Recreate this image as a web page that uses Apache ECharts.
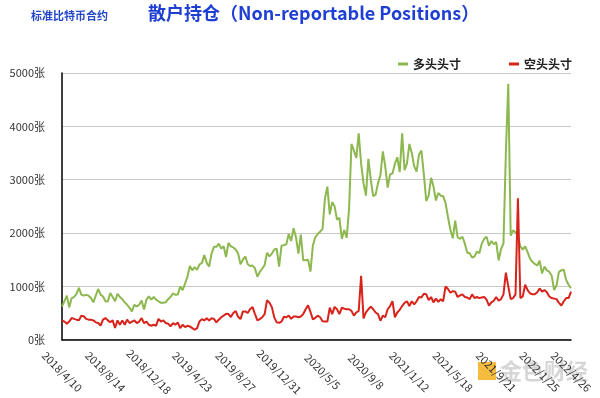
<!DOCTYPE html>
<html>
<head>
<meta charset="utf-8">
<script src="https://cdn.jsdelivr.net/npm/echarts@6/dist/echarts.min.js"></script>
<style>
  html, body { margin: 0; padding: 0; background: #fff; }
  #chart { width: 600px; height: 398px; }
</style>
</head>
<body>
<div id="chart"></div>
<script>
// weekly report dates (Tuesdays)
var dates = [
  '2018/4/10','2018/4/17','2018/4/24','2018/5/1','2018/5/8','2018/5/15','2018/5/22','2018/5/29',
  '2018/6/5','2018/6/12','2018/6/19','2018/6/26','2018/7/3','2018/7/10','2018/7/17','2018/7/24','2018/7/31',
  '2018/8/7','2018/8/14','2018/8/21','2018/8/28','2018/9/4','2018/9/11','2018/9/18','2018/9/25',
  '2018/10/2','2018/10/9','2018/10/16','2018/10/23','2018/10/30','2018/11/6','2018/11/13','2018/11/20','2018/11/27',
  '2018/12/4','2018/12/11','2018/12/18','2018/12/25',
  '2019/1/1','2019/1/8','2019/1/15','2019/1/22','2019/1/29','2019/2/5','2019/2/12','2019/2/19','2019/2/26',
  '2019/3/5','2019/3/12','2019/3/19','2019/3/26','2019/4/2','2019/4/9','2019/4/16','2019/4/23','2019/4/30',
  '2019/5/7','2019/5/14','2019/5/21','2019/5/28','2019/6/4','2019/6/11','2019/6/18','2019/6/25',
  '2019/7/2','2019/7/9','2019/7/16','2019/7/23','2019/7/30','2019/8/6','2019/8/13','2019/8/20','2019/8/27',
  '2019/9/3','2019/9/10','2019/9/17','2019/9/24','2019/10/1','2019/10/8','2019/10/15','2019/10/22','2019/10/29',
  '2019/11/5','2019/11/12','2019/11/19','2019/11/26','2019/12/3','2019/12/10','2019/12/17','2019/12/24','2019/12/31',
  '2020/1/7','2020/1/14','2020/1/21','2020/1/28','2020/2/4','2020/2/11','2020/2/18','2020/2/25',
  '2020/3/3','2020/3/10','2020/3/17','2020/3/24','2020/3/31','2020/4/7','2020/4/14','2020/4/21','2020/4/28',
  '2020/5/5','2020/5/12','2020/5/19','2020/5/26','2020/6/2','2020/6/9','2020/6/16','2020/6/23','2020/6/30',
  '2020/7/7','2020/7/14','2020/7/21','2020/7/28','2020/8/4','2020/8/11','2020/8/18','2020/8/25',
  '2020/9/1','2020/9/8','2020/9/15','2020/9/22','2020/9/29','2020/10/6','2020/10/13','2020/10/20','2020/10/27',
  '2020/11/3','2020/11/10','2020/11/17','2020/11/24','2020/12/1','2020/12/8','2020/12/15','2020/12/22','2020/12/29',
  '2021/1/5','2021/1/12','2021/1/19','2021/1/26','2021/2/2','2021/2/9','2021/2/16','2021/2/23',
  '2021/3/2','2021/3/9','2021/3/16','2021/3/23','2021/3/30','2021/4/6','2021/4/13','2021/4/20','2021/4/27',
  '2021/5/4','2021/5/11','2021/5/18','2021/5/25','2021/6/1','2021/6/8','2021/6/15','2021/6/22','2021/6/29',
  '2021/7/6','2021/7/13','2021/7/20','2021/7/27','2021/8/3','2021/8/10','2021/8/17','2021/8/24','2021/8/31',
  '2021/9/7','2021/9/14','2021/9/21','2021/9/28','2021/10/5','2021/10/12','2021/10/19','2021/10/26',
  '2021/11/2','2021/11/9','2021/11/16','2021/11/23','2021/11/30','2021/12/7','2021/12/14','2021/12/21','2021/12/28',
  '2022/1/4','2022/1/11','2022/1/18','2022/1/25','2022/2/1','2022/2/8','2022/2/15','2022/2/22',
  '2022/3/1','2022/3/8','2022/3/15','2022/3/22','2022/3/29','2022/4/5','2022/4/12','2022/4/19','2022/4/26'
];

// 多头头寸
var longPos = [
  625, 720, 825, 605, 780, 800, 860, 970, 845, 825, 840, 825, 780, 700, 825, 950, 845, 810, 720, 715,
  875, 800, 720, 860, 800, 760, 700, 655, 595, 530, 655, 625, 655, 735, 565, 750, 810, 750, 800, 750,
  720, 690, 690, 700, 760, 800, 870, 840, 845, 995, 930, 1050, 1180, 1380, 1300, 1360, 1310, 1410, 1440, 1585,
  1440, 1370, 1615, 1740, 1740, 1800, 1710, 1750, 1550, 1815, 1750, 1730, 1690, 1615, 1415, 1500, 1560, 1415, 1380, 1390,
  1335, 1180, 1270, 1330, 1400, 1630, 1560, 1615, 1690, 1705, 1370, 1765, 1770, 1790, 1980, 1850, 2090, 1920, 1615, 1970,
  1490, 1490, 1500, 1275, 1765, 1920, 1980, 2025, 2075, 2650, 2870, 2350, 2580, 2500, 2250, 2285, 1890, 2055, 1910, 2450,
  3670, 3550, 3405, 3870, 3300, 2930, 2700, 3390, 3000, 2690, 2720, 2935, 3085, 3530, 3250, 2850, 3100, 3115, 3300, 3420,
  3140, 3870, 3180, 3300, 3670, 3500, 3250, 3150, 3470, 3545, 3100, 2600, 2700, 3035, 2870, 2610, 2750, 2700, 2690, 2560,
  2300, 2060, 1900, 2230, 1920, 1890, 1930, 1800, 1630, 1620, 1540, 1560, 1650, 1620, 1800, 1890, 1930, 1760, 1850, 1790,
  1830, 1485, 1700, 1800, 3500, 4800, 1950, 2050, 2010, 1960, 1750, 1690, 1750, 1640, 1520, 1460, 1420, 1390, 1480, 1240,
  1370, 1300, 1270, 1200, 930, 1020, 1270, 1300, 1310, 1120, 1030, 965
];

// 空头头寸
var shortPos = [
  362, 340, 300, 340, 405, 390, 375, 362, 450, 440, 390, 375, 375, 362, 325, 312, 262, 375, 405, 362,
  325, 362, 220, 362, 280, 362, 280, 375, 312, 340, 362, 312, 340, 405, 312, 340, 280, 262, 280, 262,
  390, 340, 362, 312, 300, 250, 310, 280, 323, 217, 280, 236, 260, 248, 217, 186, 217, 342, 385, 360,
  400, 360, 400, 390, 323, 375, 420, 450, 485, 480, 425, 500, 535, 430, 385, 530, 530, 500, 575, 610,
  480, 360, 385, 420, 480, 740, 695, 610, 417, 325, 315, 340, 430, 420, 450, 390, 435, 435, 420, 435,
  480, 570, 645, 520, 380, 410, 450, 420, 345, 340, 340, 600, 480, 615, 570, 480, 600, 580, 570, 570,
  540, 450, 510, 540, 1196, 400, 510, 570, 620, 570, 510, 480, 355, 450, 420, 570, 630, 720, 420, 510,
  560, 630, 690, 720, 630, 720, 660, 720, 800, 790, 860, 850, 740, 800, 700, 770, 710, 760, 720, 1000,
  950, 880, 910, 900, 800, 830, 850, 800, 790, 760, 850, 780, 800, 780, 790, 800, 750, 640, 700, 730,
  800, 730, 760, 850, 1258, 1000, 760, 780, 850, 2650, 780, 810, 1030, 930, 870, 850, 850, 890, 960, 900,
  930, 890, 810, 780, 770, 760, 690, 640, 720, 780, 780, 900
];

var yTicks = [0, 1000, 2000, 3000, 4000, 5000];
var LABEL_STEP = 18;

var FONT = '"Noto Sans CJK SC", "Noto Sans", sans-serif';
var chart = echarts.init(document.getElementById('chart'));

var option = {
  animation: false,
  textStyle: { fontFamily: FONT },
  title: [
    {
      text: '散户持仓（Non-reportable Positions）',
      left: 148,
      top: 4,
      padding: 0,
      textStyle: { fontFamily: FONT, fontSize: 18, fontWeight: 'bold', color: '#1f3fd2' }
    },
    {
      text: '标准比特币合约',
      left: 31,
      top: 10,
      padding: 0,
      textStyle: { fontFamily: FONT, fontSize: 11, fontWeight: 'bold', color: '#2447c8' }
    }
  ],
  legend: {
    left: 393,
    top: 53,
    icon: 'rect',
    itemWidth: 10,
    itemHeight: 3,
    itemGap: 48,
    textStyle: { fontFamily: FONT, fontSize: 12, fontWeight: 'bold', color: '#222' },
    data: ['多头头寸', '空头头寸']
  },
  grid: {
    left: 62,
    right: 29,
    top: 73,
    bottom: 54
  },
  xAxis: {
    type: 'category',
    boundaryGap: false,
    data: dates,
    axisLine: { lineStyle: { color: '#000', width: 1.5 } },
    axisTick: { show: false },
    axisLabel: {
      interval: function(index){
        return index % LABEL_STEP === 0 || index === dates.length - 1;
      },
      rotate: -45,
      align: 'center',
      verticalAlign: 'middle',
      margin: 32,
      fontSize: 11,
      color: '#333',
      fontFamily: FONT
    }
  },
  yAxis: {
    type: 'value',
    min: yTicks[0],
    max: yTicks[yTicks.length - 1],
    interval: 1000,
    axisLine: { show: true, lineStyle: { color: '#000', width: 1.5 } },
    axisTick: { show: false },
    splitLine: { lineStyle: { color: '#c8c8c8', width: 1 } },
    axisLabel: {
      formatter: function(v){
        return v + '张';
      },
      margin: 17,
      fontSize: 11,
      color: '#333',
      fontFamily: FONT
    }
  },
  series: [
    {
      name: '多头头寸',
      type: 'line',
      data: longPos,
      showSymbol: false,
      color: '#8cb84f',
      lineStyle: { width: 2, color: '#8cb84f' }
    },
    {
      name: '空头头寸',
      type: 'line',
      data: shortPos,
      showSymbol: false,
      color: '#d8231b',
      lineStyle: { width: 2, color: '#d8231b' }
    }
  ],
  graphic: [
    {
      type: 'rect',
      left: 478,
      top: 362,
      shape: { width: 18, height: 18 },
      style: { fill: 'rgba(245,176,30,0.85)' }
    },
    {
      type: 'text',
      left: 500,
      top: 360,
      style: { text: '金色财经', fill: 'rgba(200,200,200,0.75)', font: 'bold 22px ' + FONT }
    }
  ]
};

chart.setOption(option);
</script>
</body>
</html>
